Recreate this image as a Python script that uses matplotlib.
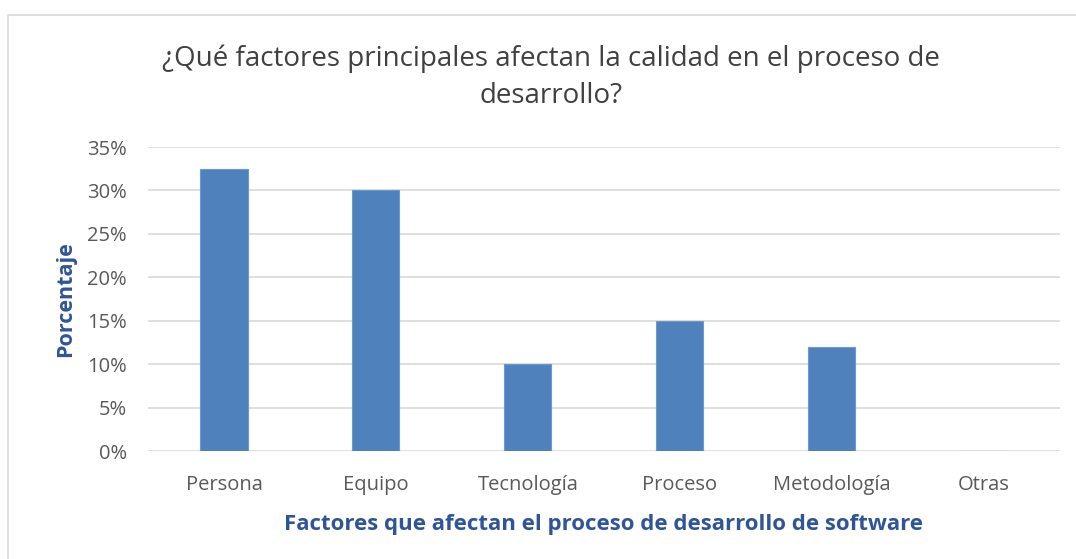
import numpy as np
import matplotlib.pyplot as plt
from matplotlib.patches import Rectangle
from matplotlib.ticker import PercentFormatter

categories = ['Persona', 'Equipo', 'Tecnología', 'Proceso', 'Metodología', 'Otras']
values = [32.5, 30, 10, 15, 12, 0]
yticks = [0, 5, 10, 15, 20, 25, 30, 35]

plt.rcParams['font.family'] = ['Open Sans', 'DejaVu Sans']

fig = plt.figure(figsize=(10.76, 5.59), dpi=100)
ax = fig.add_axes([0.1375, 0.193, 0.8475, 0.544])

# chart frame
fig.patches.append(Rectangle((8 / 1076, -0.1), 1.2, 1 - 15 / 559 + 0.1,
                             transform=fig.transFigure, fill=False,
                             edgecolor='#d9d9d9', linewidth=1.2))

x = np.arange(len(categories))
ax.bar(x, values, width=0.31, color='#4f81bd', edgecolor='#6c98cc', linewidth=0.8, zorder=3)

ax.set_xlim(-0.5, len(categories) - 0.5)
ax.set_ylim(0, 35)
ax.set_yticks(yticks)
ax.yaxis.set_major_formatter(PercentFormatter(decimals=0))
ax.set_xticks(x)
ax.set_xticklabels(categories)
ax.grid(axis='y', color='#d9d9d9', linewidth=1.2, zorder=0)
ax.tick_params(length=0, labelsize=14.5, labelcolor='#595959')
ax.tick_params(axis='x', pad=17)
ax.tick_params(axis='y', pad=15)
for s in ax.spines.values():
    s.set_visible(False)

ax.set_ylabel('Porcentaje', fontsize=15.5, fontweight='bold', color='#2f5597', labelpad=8)
ax.set_xlabel('Factores que afectan el proceso de desarrollo de software', fontsize=16,
              fontweight='bold', color='#2f5597', labelpad=14)

fig.text(0.512, 0.862, '¿Qué factores principales afectan la calidad en el proceso de\ndesarrollo?',
         ha='center', va='center', fontsize=20, color='#404040', linespacing=1.45)

fig.savefig('out.png', dpi=100)
